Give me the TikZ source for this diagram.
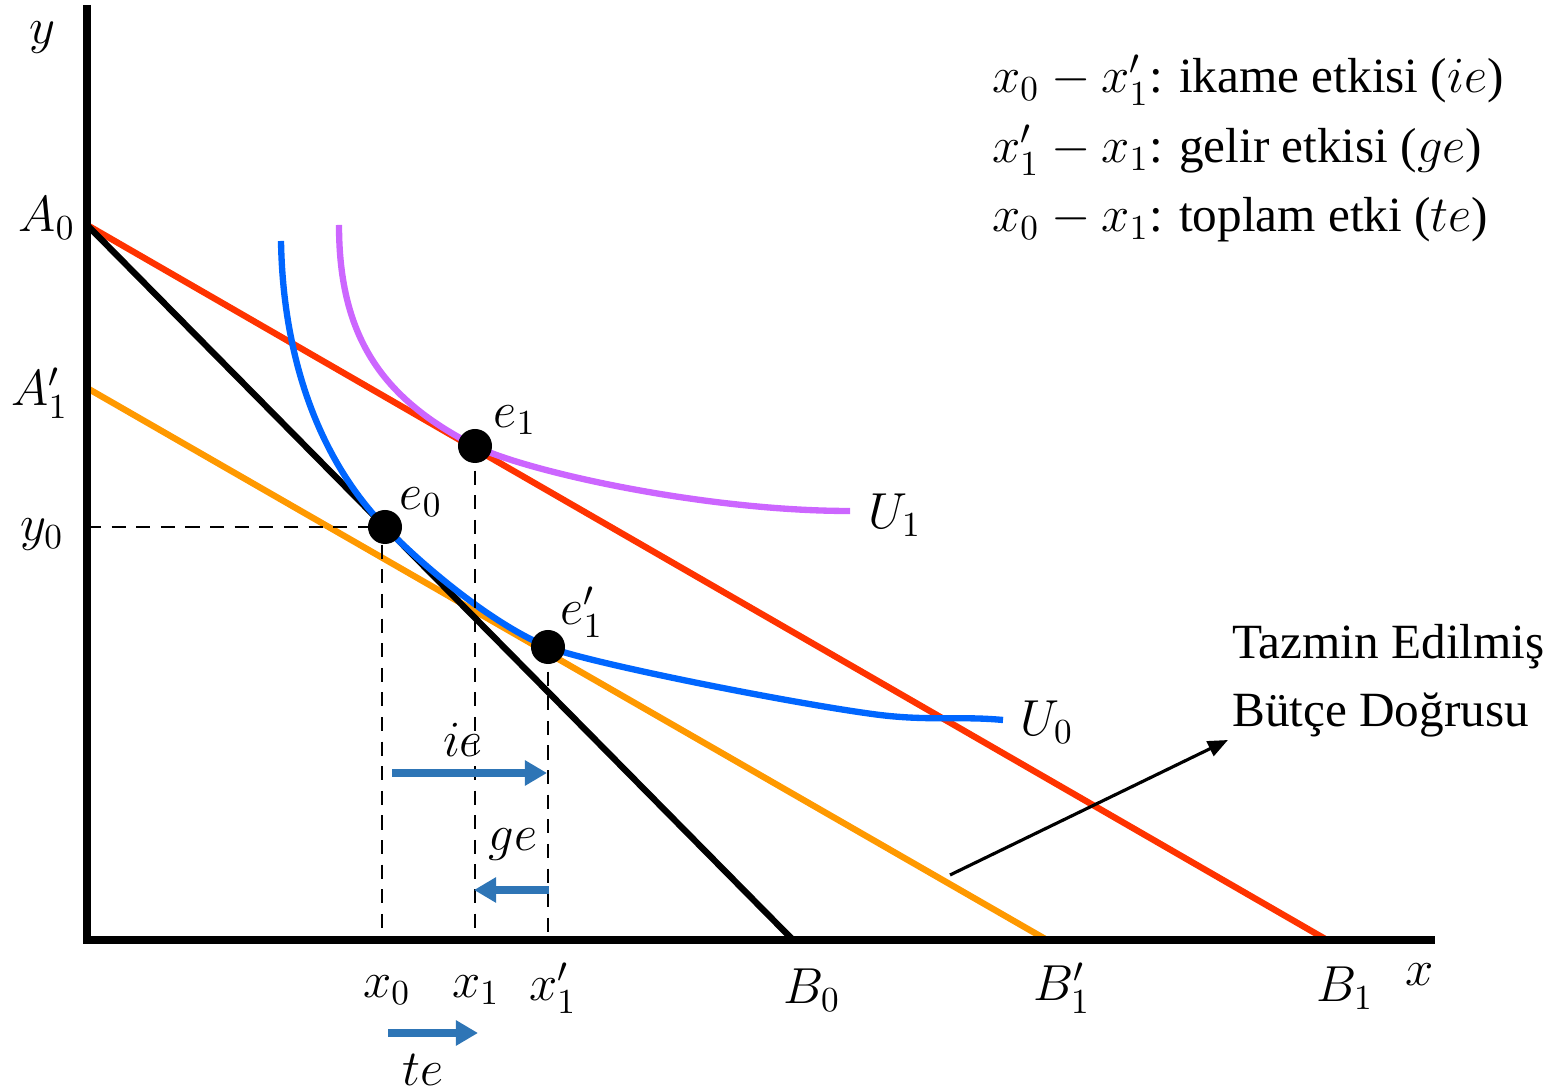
\documentclass[tikz,border=0pt]{standalone}
\usepackage{amsmath}
\usepackage{fontspec}
\newfontfamily\labelfont{Liberation Serif}
\usetikzlibrary{arrows.meta}
\definecolor{budgetred}{RGB}{255,51,0}
\definecolor{budgetorange}{RGB}{255,153,0}
\definecolor{utilblue}{RGB}{0,102,255}
\definecolor{utilpurple}{RGB}{204,102,255}
\definecolor{effectblue}{RGB}{46,117,182}

\begin{document}
\begin{tikzpicture}[x=0.01cm, y=-0.01cm,
    every node/.style={font=\fontsize{14.5}{17}\selectfont, inner sep=1pt},
    txt/.style={font=\fontsize{14}{17}\labelfont},
    axis/.style={line width=2pt},
    budget/.style={line width=1.8pt},
    util/.style={line width=1.8pt},
    guide/.style={line width=0.6pt, dash pattern=on 4pt off 3pt},
    dot/.style={circle, fill=black, minimum size=0.34cm, inner sep=0pt},
    effect/.style={effectblue, line width=2.4pt, -{Triangle[length=0.22cm, width=0.24cm]}}]
    \useasboundingbox (0,0) rectangle (1551,1092);
    % Axes
    \coordinate (ytop) at (87,5);
    \coordinate (O) at (87,940);
    \coordinate (xend) at (1435,940);
    \coordinate (A0) at (87,225);
    \coordinate (A1p) at (87,388);
    \coordinate (B0) at (793,940);
    \coordinate (B1p) at (1047,940);
    \coordinate (B1) at (1327,940);

    % Budget lines
    \draw[budget, budgetred] (A0) -- (B1);
    \draw[budget, budgetorange] (A1p) -- (B1p);
    \draw[budget, black] (A0) -- (B0);

    % Equilibrium points
    \coordinate (e0) at (385,527);
    \coordinate (e1) at (475,446);
    \coordinate (e1p) at (548,647);

    % Indifference curves
    \draw[util, utilpurple] (339,225) .. controls (339,340) and (385,400) .. (e1)
        .. controls (522,470) and (700,511) .. (850,511);
    \draw[util, utilblue] (281,241) .. controls (283,360) and (320,460) .. (e0)
        .. controls (430,573) and (498,627) .. (e1p)
        .. controls (588,663) and (800,705) .. (880,715)
        .. controls (930,721) and (960,716) .. (1003,720);

    \draw[axis] (ytop) -- (O) -- (xend);

    \node[dot] (e0d) at (e0) {};
    \node[dot] (e1d) at (e1) {};
    \node[dot] (e1pd) at (e1p) {};
    \coordinate (x0) at (382,940);
    \coordinate (x1) at (475,940);
    \coordinate (x1p) at (548,940);
    \coordinate (y0) at (87,527);

    % Guides
    \draw[guide] (y0) -- (e0d.center);
    \draw[guide] (x0 |- e0d.south) -- (x0);
    \draw[guide] (e1d.center) -- (x1);
    \draw[guide] (e1pd.center) -- (x1p);

    % Labels
    \node (ylab) at (42,38) {$y$};
    \node (xlab) at (1420,975) {$x$};
    \node (A0lab) at (47,218) {$A_0$};
    \node (A1plab) at (40,393) {$A_1'$};
    \node (y0lab) at (42,535) {$y_0$};
    \node (x0lab) at (387,990) {$x_0$};
    \node (x1lab) at (476,990) {$x_1$};
    \node (x1plab) at (553,988) {$x_1'$};
    \node (B0lab) at (812,990) {$B_0$};
    \node (B1plab) at (1062,988) {$B_1'$};
    \node (B1lab) at (1345,988) {$B_1$};
    \node (e0lab) at (421,502) {$e_0$};
    \node (e1lab) at (515,420) {$e_1$};
    \node (e1plab) at (582,612) {$e_1'$};
    \node (U1lab) at (895,515) {$U_1$};
    \node (U0lab) at (1047,722) {$U_0$};

    % Effects
    \coordinate (ieS) at (392,773);
    \coordinate (ieE) at (547,773);
    \coordinate (geS) at (549,890);
    \coordinate (geE) at (474,890);
    \coordinate (teS) at (388,1033);
    \coordinate (teE) at (478,1033);
    \draw[effect] (ieS) -- (ieE);
    \draw[effect] (geS) -- (geE);
    \draw[effect] (teS) -- (teE);
    \node (ielab) at (463,740) {$ie$};
    \node (gelab) at (513,845) {$ge$};
    \node (telab) at (423,1070) {$te$};

    % Compensated budget line
    \node[txt, anchor=west] (tazmin) at (1228,647) {Tazmin Edilmiş};
    \node[txt, anchor=west] (butce) at (1228,715) {Bütçe Doğrusu};
    \coordinate (callS) at (950,875);
    \coordinate (callE) at (1228,740);
    \draw[line width=0.9pt, -{Triangle[length=0.2cm, width=0.16cm]}] (callS) -- (callE);

    % Legend
    \node[txt, anchor=west] (leg1) at (988,80) {$x_0 - x_1'$: ikame etkisi ($ie$)};
    \node[txt, anchor=west] (leg2) at (988,150) {$x_1' - x_1$: gelir etkisi ($ge$)};
    \node[txt, anchor=west] (leg3) at (988,220) {$x_0 - x_1$: toplam etki ($te$)};
\end{tikzpicture}
\end{document}
